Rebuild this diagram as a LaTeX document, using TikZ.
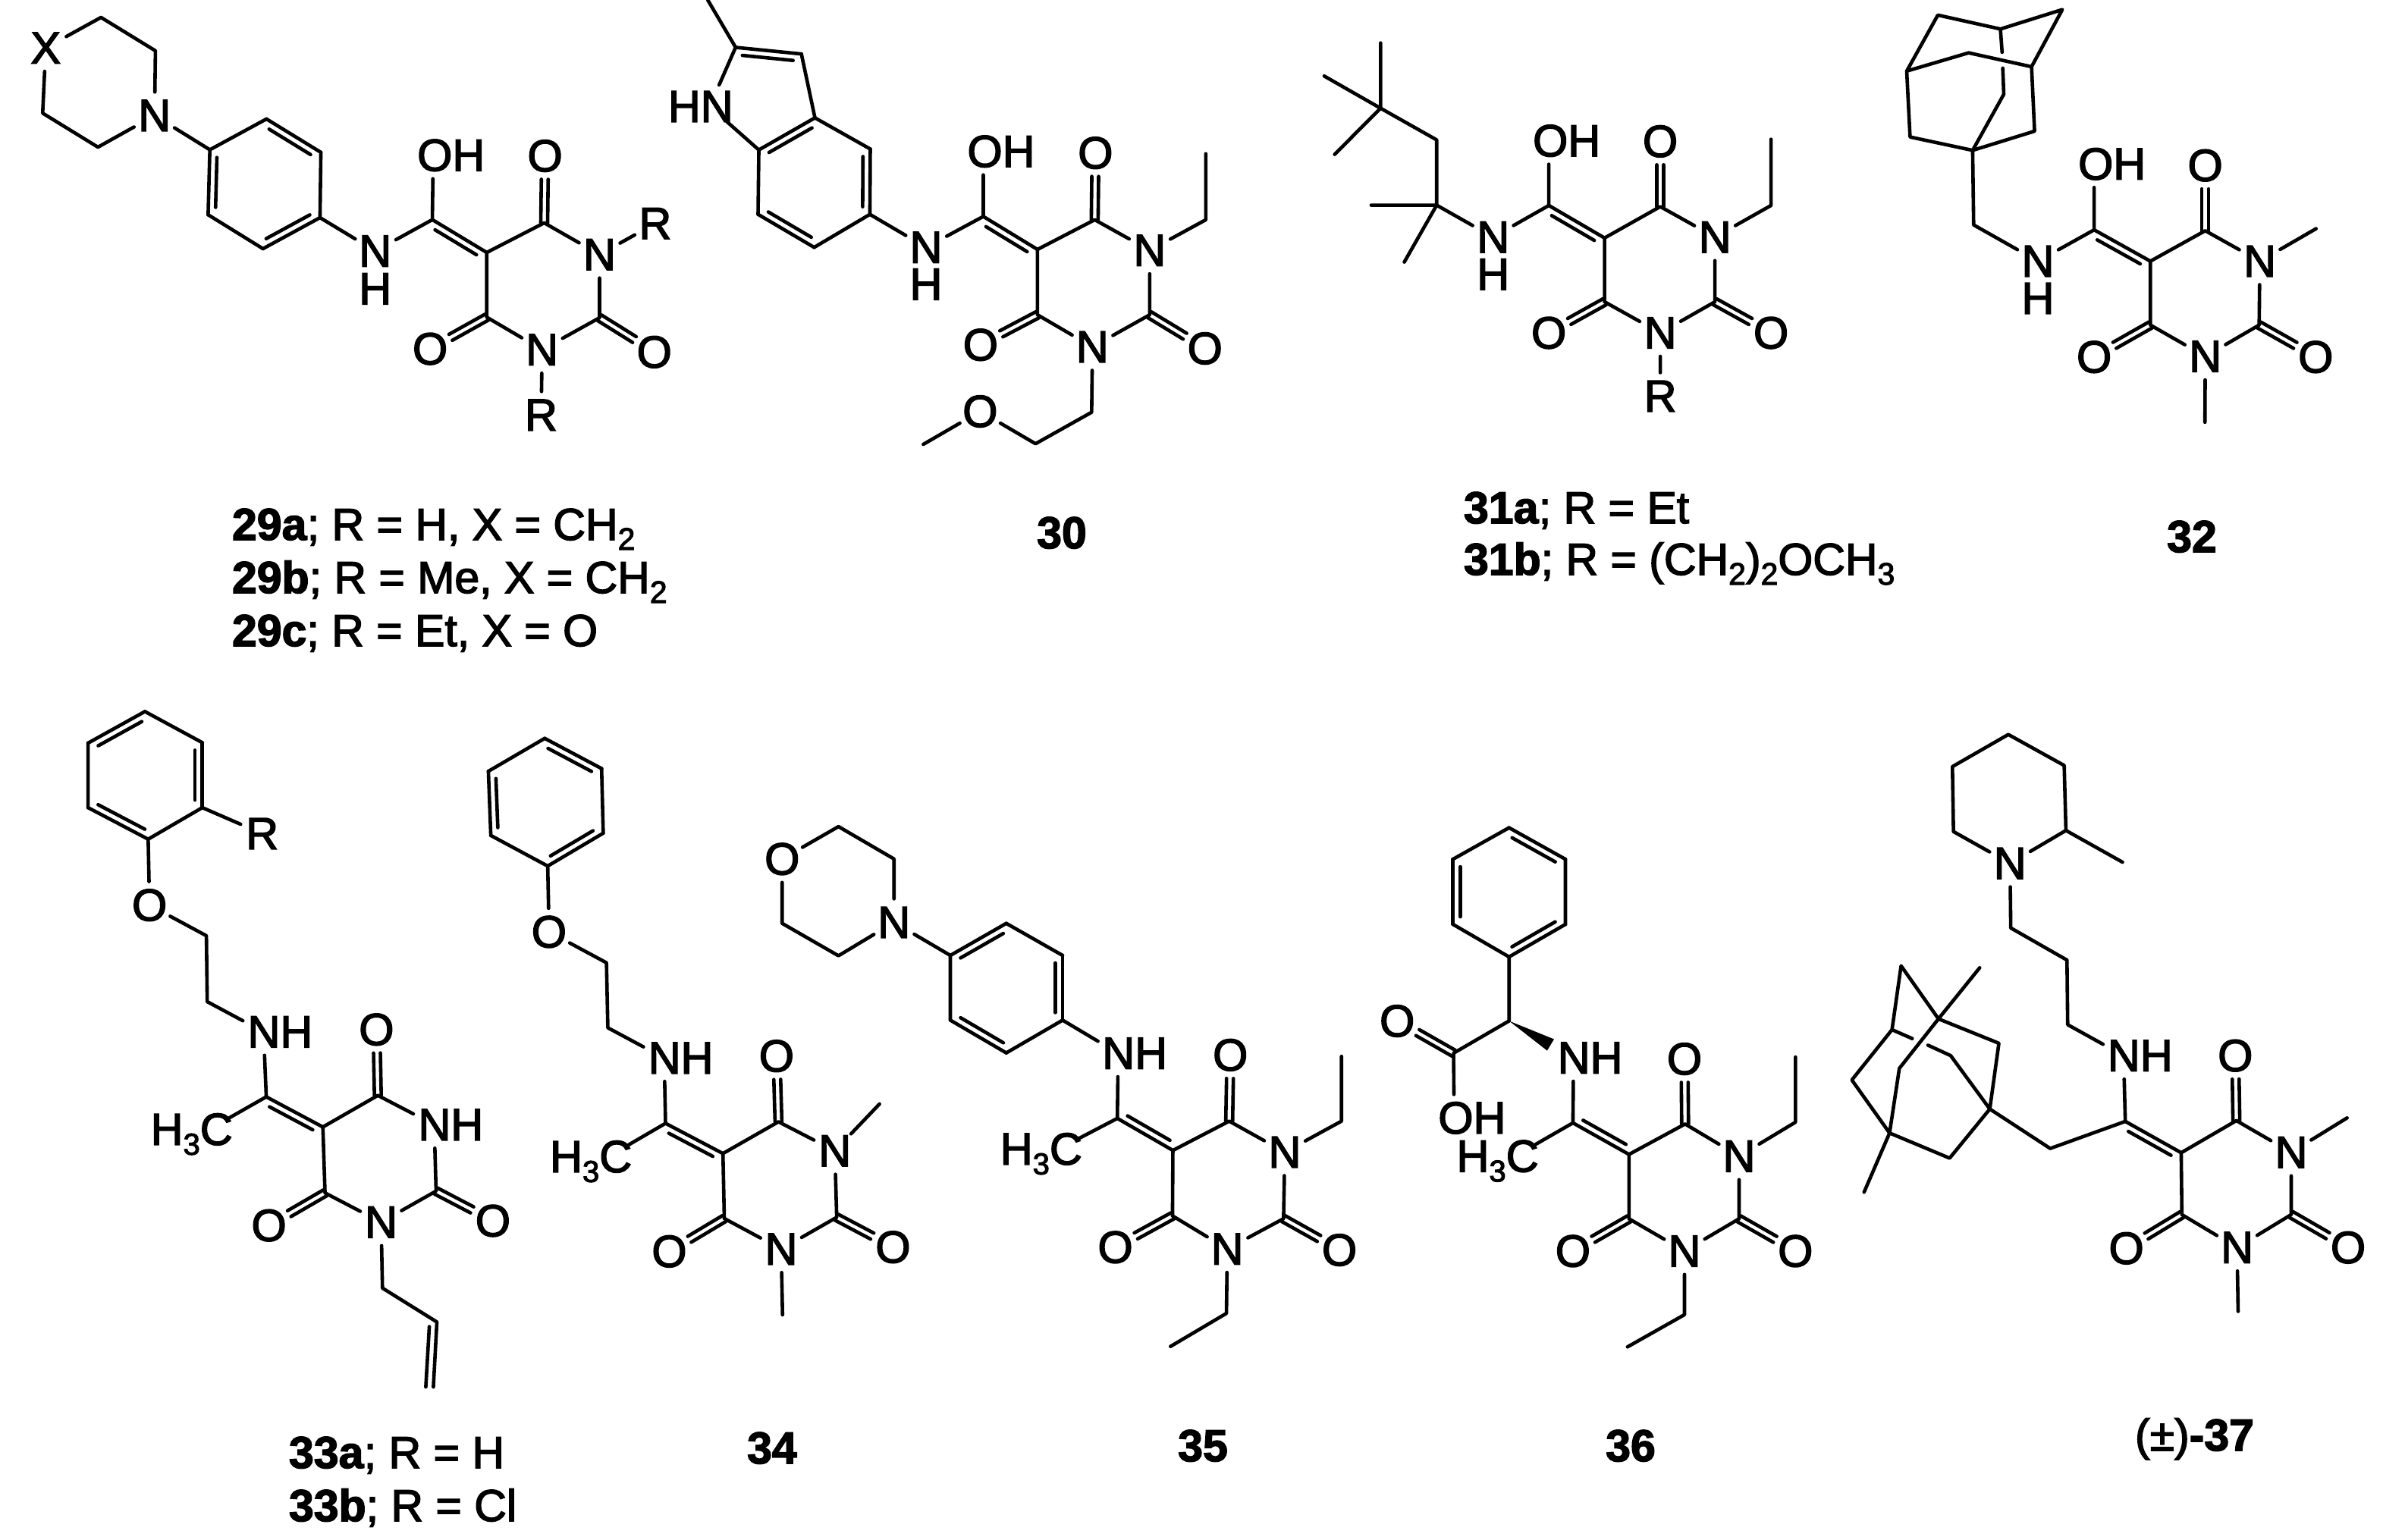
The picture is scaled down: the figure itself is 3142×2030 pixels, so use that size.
\documentclass[tikz,border=0pt]{standalone}
\usepackage{fontspec}
\setmainfont{Liberation Sans}[FakeBold=2.5]
\usetikzlibrary{calc}
\tikzset{
  bond/.style={line width=2.3pt,line cap=round,line join=round,black},
  hit/.style={circle,minimum size=31pt,inner sep=0pt,outer sep=0pt},
  lab/.style={inner sep=0pt,outer sep=0pt,text height=20.5pt,text depth=0pt,font=\fontsize{29.7}{34}\selectfont,black},
  caplab/.style={inner sep=0pt,outer sep=0pt,anchor=base west,font=\fontsize{29.5}{34}\selectfont,black},
  capnum/.style={inner sep=0pt,outer sep=0pt,anchor=base,font=\fontsize{29.5}{34}\bfseries\selectfont,black},
}
\newcommand\subn[1]{\raisebox{-6.5pt}{\fontsize{20}{22}\selectfont #1}}
\newcommand\subc[1]{\raisebox{-6.5pt}{\fontsize{20.5}{22}\selectfont #1}}
\newcommand\vs[1]{\foreach \n/\x/\y in {#1}{\coordinate (\n) at (\x,\y);}}
\newcommand\atm[3]{\node[hit] (#1) at (#2) {};\node[lab] (#1t) at (#2) {#3};}
\newcommand\atmw[3]{\node[hit] (#1) at (#2) {};\node[lab,anchor=west] (#1t) at (#1.west) {\hspace{5pt}#3};}
\newcommand\atme[3]{\node[hit] (#1) at (#2) {};\node[lab,anchor=east] (#1t) at (#1.east) {#3\hspace{5pt}};}
\newcommand\dblO[2]{\draw[bond,reset cm,shorten >=15.5pt] ($(#1)!2.25pt!90:(#2)$) -- ($(#2)!2.25pt!-90:(#1)$);\draw[bond,reset cm,shorten >=15.5pt] ($(#1)!2.25pt!-90:(#2)$) -- ($(#2)!2.25pt!90:(#1)$);}
\newcommand\dblR[2]{\draw[bond] (#1)--(#2);\draw[bond,reset cm,shorten <=5pt,shorten >=5pt] ($(#1)!4.8pt!-90:(#2)$) -- ($(#2)!4.8pt!90:(#1)$);}
\newcommand\dblL[2]{\draw[bond] (#1)--(#2);\draw[bond,reset cm,shorten <=5pt,shorten >=5pt] ($(#1)!4.8pt!90:(#2)$) -- ($(#2)!4.8pt!-90:(#1)$);}
\newcommand\corebonds{\draw[bond] (c6)--(c5)--(c4)--(n1)--(c2)--(n3)--(c6);\dblO{c4}{o4}\dblO{c2}{o2}\dblO{c6}{o6}}
\begin{document}
\begin{tikzpicture}[x=0.5pt,y=-0.5pt]
\useasboundingbox (0,0) rectangle (3142,2030);
\fill[white] (0,0) rectangle (3142,2030);

% 29
\begin{scope}[name prefix=a-,shift={(0,0)},xscale=.574,yscale=.3827]
\vs{r1/232/60,r2/357/175,r3/225/507,r4/98/390,b1/482/516,b2/612/410,b3/737/525,b4/735/750,b5/604/857,b6/478/740,cx/993/757,c5/1118/870,c4/1250/768,c2/1377/1095,c6/1118/1093}
\atm{x}{105,165}{X}\atm{n}{355,398}{N}\atm{nh}{862,865}{N}\node[lab] (hh) at (862,995) {H};
\atmw{oh}{995,535}{OH}\atm{o4}{1252,537}{O}\atm{n1}{1377,877}{N}\atm{r}{1505,770}{R}
\atm{o2}{1503,1213}{O}\atm{n3}{1245,1205}{N}\atm{o6}{988,1202}{O}\atm{rr}{1243,1430}{R}
\draw[bond] (x)--(r1)--(r2)--(n)--(r3)--(r4)--(x);
\draw[bond] (n)--(b1)--(b2) (b3)--(b4) (b5)--(b6);
\dblR{b2}{b3}\dblR{b4}{b5}\dblR{b6}{b1}
\draw[bond] (b4)--(nh)--(cx)--(oh);\dblR{cx}{c5}\corebonds
\draw[bond] (n1)--(r);\draw[bond] (n3)--(rr);
\end{scope}

% 30
\begin{scope}[name prefix=b-,shift={(850,0)},xscale=.5102,yscale=.3954]
\vs{me/163/0,p2/235/158,p3/405/180,p3a/440/393,p7a/295/500,p4/583/497,p5/582/715,p6/438/825,p7/293/715,cx/875/722,c5/1015/832,c4/1163/733,e1/1450/733,e2/1450/513,c2/1305/1050,c6/1015/1050,m1/1155/1375,m2/1010/1480,m3/720/1482}
\atme{hn}{168,355}{HN}\atm{nh}{727,825}{N}\node[lab] (hh) at (727,948) {H};
\atmw{oh}{875,505}{OH}\atm{o4}{1165,510}{O}\atm{n1}{1305,835}{N}\atm{o2}{1448,1162}{O}\atm{n3}{1157,1157}{N}\atm{o6}{868,1150}{O}\atm{om}{867,1372}{O}
\draw[bond] (me)--(p2)--(hn)--(p7a);\draw[bond] (p3)--(p3a);
\dblR{p2}{p3}
\dblL{p3a}{p7a}
\draw[bond] (p3a)--(p4) (p5)--(p6) (p7)--(p7a);
\dblR{p4}{p5}\dblR{p6}{p7}
\draw[bond] (p5)--(nh)--(cx)--(oh);\dblR{cx}{c5}\corebonds
\draw[bond] (n1)--(e1)--(e2);\draw[bond] (n3)--(m1)--(m2)--(om)--(m3);
\end{scope}

% 31
\begin{scope}[name prefix=c-,shift={(1700,0)},xscale=.4592,yscale=.3827]
\vs{q/262/373,m1/262/148,m2/100/262,m3/130/532,ch/423/482,q2/423/707,m4/235/707,m5/330/903,cx/745/708,c5/905/820,c4/1065/712,e1/1383/708,e2/1383/480,c2/1222/1040,c6/905/1040}
\atm{nh}{585,817}{N}\node[lab] (hh) at (585,945) {H};
\atmw{oh}{745,485}{OH}\atm{o4}{1065,487}{O}\atm{n1}{1222,817}{N}\atm{o2}{1383,1147}{O}\atm{n3}{1065,1147}{N}\atm{o6}{745,1147}{O}\atm{r}{1065,1365}{R}
\draw[bond] (m1)--(q)--(ch)--(q2)--(nh)--(cx)--(oh);
\draw[bond] (m2)--(q)--(m3);\draw[bond] (m4)--(q2)--(m5);
\dblR{cx}{c5}\corebonds
\draw[bond] (n1)--(e1)--(e2);\draw[bond] (n3)--(r);
\end{scope}

% 32
\begin{scope}[name prefix=d-,shift={(2450,0)},xscale=.4413,yscale=.3827]
\vs{a/238/52,b/425/100,d/610/33,e/518/230,f/330/182,g/145/245,h/155/472,i/342/518,j/527/452,k/435/325,g1/430/180,g2/432/235,ch/345/775,cx/705/792,c5/873/900,c4/1037/795,me/1368/788,c2/1198/1120,c6/873/1120,me2/1036/1455}
\atm{nh}{537,900}{N}\node[lab] (hh) at (537,1028) {H};
\atmw{oh}{705,565}{OH}\atm{o4}{1037,570}{O}\atm{n1}{1200,900}{N}\atm{o2}{1367,1230}{O}\atm{n3}{1037,1228}{N}\atm{o6}{705,1230}{O}
\draw[bond] (g)--(a)--(b)--(d)--(e)--(f)--(g)--(h)--(i)--(j)--(e);
\draw[bond] (b)--(g1);\draw[bond] (g2)--(k)--(i);
\draw[bond] (i)--(ch)--(nh)--(cx)--(oh);\dblR{cx}{c5}\corebonds
\draw[bond] (n1)--(me);\draw[bond] (n3)--(me2);
\end{scope}

% 33
\begin{scope}[name prefix=e-,shift={(150,920)},xscale=.3571,yscale=.6122]
\vs{t1/115/30,t2/327/97,t3/327/237,t4/127/305,t5/-95/237,t6/-95/98,l1/342/513,l2/345/655,cx/563/860,c5/772/925,c4/975/857,c2/1190/1063,c6/780/1067,v1/992/1272,v2/1193/1345,v3/1180/1485,v4/1165/1355,v5/1152/1485}
\atm{r}{548,293}{R}\atm{o}{132,447}{O}\atmw{nh}{553,720}{NH}\atme{me}{352,930}{H\subn{3}C}
\atm{o4}{970,715}{O}\atmw{n1}{1183,920}{NH}\atm{o2}{1400,1127}{O}\atm{n3}{987,1130}{N}\atm{o6}{573,1137}{O}
\draw[bond] (t1)--(t2) (t3)--(t4) (t5)--(t6);
\dblR{t2}{t3}\dblR{t4}{t5}\dblR{t6}{t1}
\draw[bond] (t3)--(r);\draw[bond] (t4)--(o)--(l1)--(l2)--(nh)--(cx)--(me);
\dblR{cx}{c5}\corebonds
\draw[bond] (n3)--(v1)--(v2)--(v3);\draw[bond] (v4)--(v5);
\end{scope}

% 34
\begin{scope}[name prefix=f-,shift={(680,960)},xscale=.3571,yscale=.5102]
\vs{u1/107/27,u2/317/105,u3/323/272,u4/118/357,u5/-92/278,u6/-101/112,l1/335/607,l2/340/775,cx/553/1022,c5/765/1100,c4/970/1018,c2/1185/1265,c6/770/1268,me1/1343/972,me2/985/1517}
\atm{o}{123,527}{O}\atmw{nh}{548,853}{NH}\atme{me}{342,1108}{H\subn{3}C}
\atm{o4}{963,848}{O}\atm{n1}{1178,1093}{N}\atm{o2}{1393,1342}{O}\atm{n3}{980,1347}{N}\atm{o6}{567,1353}{O}
\draw[bond] (u2)--(u3) (u4)--(u5) (u6)--(u1);
\dblR{u1}{u2}\dblR{u3}{u4}\dblR{u5}{u6}
\draw[bond] (u4)--(o)--(l1)--(l2)--(nh)--(cx)--(me);
\dblR{cx}{c5}\corebonds
\draw[bond] (n1)--(me1);\draw[bond] (n3)--(me2);
\end{scope}

% 35
\begin{scope}[name prefix=g-,shift={(980,1080)},xscale=.523,yscale=.4592]
\vs{m1/240/22,m2/380/115,m3/240/393,m4/98/300,b1/522/392,b2/663/300,b3/805/392,b4/805/578,b5/663/672,b6/522/578,cx/943/860,c5/1083/952,c4/1225/868,e1/1508/868,e2/1508/682,c2/1362/1148,c6/1082/1140,e3/1218/1420,e4/1077/1515}
\atm{om}{98,115}{O}\atm{nm}{380,297}{N}\atmw{nh}{945,673}{NH}\atme{me}{795,948}{H\subn{3}C}
\atm{o4}{1228,678}{O}\atm{n1}{1365,957}{N}\atm{o2}{1503,1238}{O}\atm{n3}{1220,1235}{N}\atm{o6}{938,1230}{O}
\draw[bond] (om)--(m1)--(m2)--(nm)--(m3)--(m4)--(om);
\draw[bond] (nm)--(b1);\draw[bond] (b2)--(b3) (b4)--(b5) (b6)--(b1);
\dblR{b1}{b2}\dblR{b3}{b4}\dblR{b5}{b6}
\draw[bond] (b4)--(nh)--(cx)--(me);
\dblL{cx}{c5}\corebonds
\draw[bond] (n1)--(e1)--(e2);\draw[bond] (n3)--(e3)--(e4);
\end{scope}

% 36
\begin{scope}[name prefix=h-,shift={(1790,1060)},xscale=.3954,yscale=.4719]
\vs{v1/505/67,v2/693/155,v3/693/337,v4/505/428,v5/318/337,v6/318/155,s/505/607,k/320/697,w1/655/658,w2/632/690,cx/718/892,c5/905/980,c4/1092/895,e1/1460/890,e2/1460/708,c2/1272/1160,c6/905/1160,e3/1090/1428,e4/900/1518}
\atm{ok}{132,607}{O}\atmw{oh}{322,878}{OH}\atmw{nh}{720,710}{NH}\atme{me}{525,985}{H\subn{3}C}
\atm{o4}{1090,713}{O}\atm{n1}{1272,985}{N}\atm{o2}{1460,1250}{O}\atm{n3}{1090,1250}{N}\atm{o6}{718,1250}{O}
\draw[bond] (v2)--(v3) (v4)--(v5) (v6)--(v1);
\dblR{v1}{v2}\dblR{v3}{v4}\dblR{v5}{v6}
\draw[bond] (v4)--(s)--(k)--(oh);\dblO{k}{ok}
\fill[black] (s)--(w1)--(w2)--cycle;
\draw[bond] (nh)--(cx)--(me);
\dblL{cx}{c5}\corebonds
\draw[bond] (n1)--(e1)--(e2);\draw[bond] (n3)--(e3)--(e4);
\end{scope}

% 37
\begin{scope}[name prefix=i-,shift={(2420,960)},xscale=.4605,yscale=.5102]
\vs{p1/338/268,p2/335/100,p3/495/17,p4/655/97,p5/660/265,pm/822/347,l1/502/517,l2/663/600,l3/665/767,cx/830/1017,c5/990/1098,c4/1148/1015,me1/1465/1008,c2/1305/1258,c6/992/1258,me2/1153/1508,ch/615/1087,A/442/985,B/468/815,C/295/752,D/188/615,E/162/780,F/47/910,G/155/1047,H/327/1112,M1/413/620,I/183/880,M2/82/1200,g1/220/803,g2/265/820,J/330/847}
\atm{np}{500,350}{N}\atmw{nh}{825,847}{NH}
\atm{o4}{1145,847}{O}\atm{n1}{1305,1097}{N}\atm{o2}{1468,1343}{O}\atm{n3}{1150,1343}{N}\atm{o6}{833,1345}{O}
\draw[bond] (np)--(p1)--(p2)--(p3)--(p4)--(p5)--(np);\draw[bond] (p5)--(pm);
\draw[bond] (np)--(l1)--(l2)--(l3)--(nh)--(cx)--(ch)--(A);
\dblR{cx}{c5}\corebonds
\draw[bond] (n1)--(me1);\draw[bond] (n3)--(me2);
\draw[bond] (A)--(B)--(C)--(D)--(E)--(F)--(G)--(H)--(A);
\draw[bond] (M1)--(C)--(I)--(G)--(M2);
\draw[bond] (E)--(g1);\draw[bond] (g2)--(J)--(A);
\end{scope}

% captions
\node[caplab] (l29a) at (306,712) {\textbf{29a}; R = H, X = CH\subc{2}};
\node[caplab] (l29b) at (306,782) {\textbf{29b}; R = Me, X = CH\subc{2}};
\node[caplab] (l29c) at (306,852) {\textbf{29c}; R = Et, X = O};
\node[capnum] (l30) at (1400,723) {30};
\node[caplab] (l31a) at (1930,690) {\textbf{31a}; R = Et};
\node[caplab] (l31b) at (1930,758) {\textbf{31b}; R = (CH\subc{2})\subc{2}OCH\subc{3}};
\node[capnum] (l32) at (2890,728) {32};
\node[caplab] (l33a) at (381,1936) {\textbf{33a}; R = H};
\node[caplab] (l33b) at (381,2006) {\textbf{33b}; R = Cl};
\node[capnum] (l34) at (1018,1930) {34};
\node[capnum] (l35) at (1586,1927) {35};
\node[capnum] (l36) at (2150,1927) {36};
\node[caplab] (l37) at (2815,1913) {(±)\textbf{-37}};
\end{tikzpicture}
\end{document}
